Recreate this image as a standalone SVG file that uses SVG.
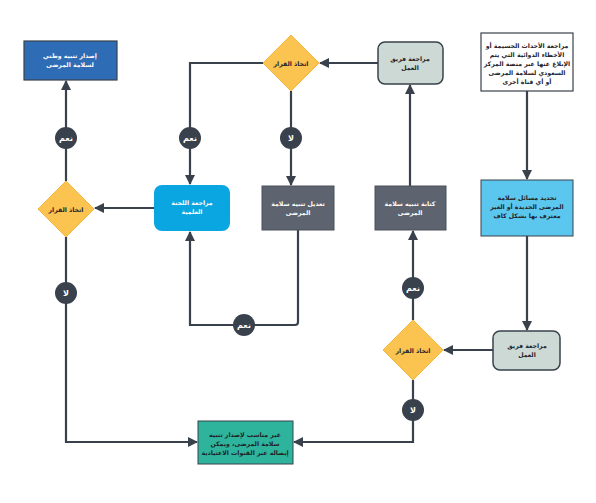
<svg xmlns="http://www.w3.org/2000/svg" width="596" height="503" viewBox="0 0 596 503">
<defs>
<marker id="ah" viewBox="0 0 10 10" refX="9" refY="5" markerWidth="4.6" markerHeight="4.6" orient="auto" markerUnits="strokeWidth">
<path d="M0,0 L10,5 L0,10 z" fill="#39424c"/>
</marker>
<style>
.c{fill:none;stroke:#39424c;stroke-width:2.2;marker-end:url(#ah)}
.t{font-family:"DejaVu Sans",sans-serif;font-size:6.2px;font-weight:bold;text-anchor:middle;direction:rtl}
.dk{fill:#1f2328}
.wt{fill:#ffffff}
.dia{fill:#fbc350;stroke:#f2b540;stroke-width:1}
.rev{fill:#cdd9d5;stroke:#39424c;stroke-width:1.5}
.gr{fill:#5d6470;stroke:#4a515b;stroke-width:1}
.lb{fill:#39424c}
.lt{font-family:"DejaVu Sans",sans-serif;font-size:8px;font-weight:bold;fill:#ffffff;text-anchor:middle;direction:rtl}
</style>
</defs>
<rect width="596" height="503" fill="#ffffff"/>
<g id="connectors">
<path class="c" d="M527,91 V179"/>
<path class="c" d="M527,236 V330"/>
<path class="c" d="M493,350 H444"/>
<path class="c" d="M413,320 V231"/>
<path class="c" d="M413,380 V442 H294"/>
<path class="c" d="M410,186 V85"/>
<path class="c" d="M378,63 H320"/>
<path class="c" d="M263,63 H190 V184"/>
<path class="c" d="M291,91 V185"/>
<path class="c" d="M298,230 V322 Q298,325 295,325 H190 V232"/>
<path class="c" d="M154,208 H95"/>
<path class="c" d="M66,181 V81"/>
<path class="c" d="M66,237 V442 H197"/>
</g>
<g id="labels">
<g><circle class="lb" cx="413" cy="288" r="11"/><text class="lt" x="413" y="291">نعم</text></g>
<g><circle class="lb" cx="413" cy="410" r="11"/><text class="lt" x="413" y="413">لا</text></g>
<g><circle class="lb" cx="190" cy="138" r="11"/><text class="lt" x="190" y="141">نعم</text></g>
<g><circle class="lb" cx="291" cy="138" r="11"/><text class="lt" x="291" y="141">لا</text></g>
<g><circle class="lb" cx="244" cy="325" r="11"/><text class="lt" x="244" y="328">نعم</text></g>
<g><circle class="lb" cx="66" cy="138" r="11"/><text class="lt" x="66" y="141">نعم</text></g>
<g><circle class="lb" cx="66" cy="293" r="11"/><text class="lt" x="66" y="296">لا</text></g>
</g>
<g id="n1">
<rect x="481" y="33" width="92" height="58" fill="#ffffff" stroke="#39424c" stroke-width="1.2"/>
<text class="t dk" x="527" y="48">مراجعة الأحداث الجسيمة أو</text>
<text class="t dk" x="527" y="57">الأخطاء الدوائية التي يتم</text>
<text class="t dk" x="527" y="66">الإبلاغ عنها عبر منصة المركز</text>
<text class="t dk" x="527" y="75">السعودي لسلامة المرضى</text>
<text class="t dk" x="527" y="84">أو أي قناة أخرى</text>
</g>
<g id="n2">
<rect x="481" y="180" width="92" height="56" fill="#5bc6ee" stroke="#39424c" stroke-width="1"/>
<text class="t dk" x="527" y="200">تحديد مسائل سلامة</text>
<text class="t dk" x="527" y="209">المرضى الجديدة أو الغير</text>
<text class="t dk" x="527" y="218">معترف بها بشكل كاف</text>
</g>
<g id="n3">
<rect class="rev" x="493" y="331" width="67" height="39" rx="7"/>
<text class="t dk" x="527" y="348">مراجعة فريق</text>
<text class="t dk" x="527" y="357">العمل</text>
</g>
<g id="n4">
<polygon class="dia" points="413,320 443,350 413,380 383,350"/>
<text class="t dk" x="413" y="353">اتخاذ القرار</text>
</g>
<g id="n5">
<rect class="gr" x="375" y="186" width="71" height="44"/>
<text class="t wt" x="410" y="206">كتابة تنبيه سلامة</text>
<text class="t wt" x="410" y="215">المرضى</text>
</g>
<g id="n6">
<rect class="rev" x="378" y="42" width="65" height="42" rx="7"/>
<text class="t dk" x="410" y="61">مراجعة فريق</text>
<text class="t dk" x="410" y="70">العمل</text>
</g>
<g id="n7">
<polygon class="dia" points="291,35 319,63 291,91 263,63"/>
<text class="t dk" x="291" y="66">اتخاذ القرار</text>
</g>
<g id="n8">
<rect class="gr" x="262" y="186" width="72" height="44"/>
<text class="t wt" x="298" y="206">تعديل تنبيه سلامة</text>
<text class="t wt" x="298" y="215">المرضى</text>
</g>
<g id="n9">
<rect x="154" y="185" width="76" height="46" rx="8" fill="#0aa6e2"/>
<text class="t wt" x="192" y="205">مراجعة اللجنة</text>
<text class="t wt" x="192" y="214">العلمية</text>
</g>
<g id="n10">
<polygon class="dia" points="66,181 94,209 66,237 38,209"/>
<text class="t dk" x="66" y="212">اتخاذ القرار</text>
</g>
<g id="n11">
<rect x="24" y="41" width="93" height="39" fill="#2e6db6" stroke="#39424c" stroke-width="1.2"/>
<text class="t wt" x="70" y="58">إصدار تنبيه وطني</text>
<text class="t wt" x="70" y="67">لسلامة المرضى</text>
</g>
<g id="n12">
<rect x="198" y="421" width="95" height="43" fill="#2eb39c" stroke="#39424c" stroke-width="1"/>
<text class="t dk" x="245" y="437">غير مناسب لإصدار تنبيه</text>
<text class="t dk" x="245" y="446">سلامة المرضى، ويمكن</text>
<text class="t dk" x="245" y="455">إيصاله عبر القنوات الاعتيادية</text>
</g>
</svg>
